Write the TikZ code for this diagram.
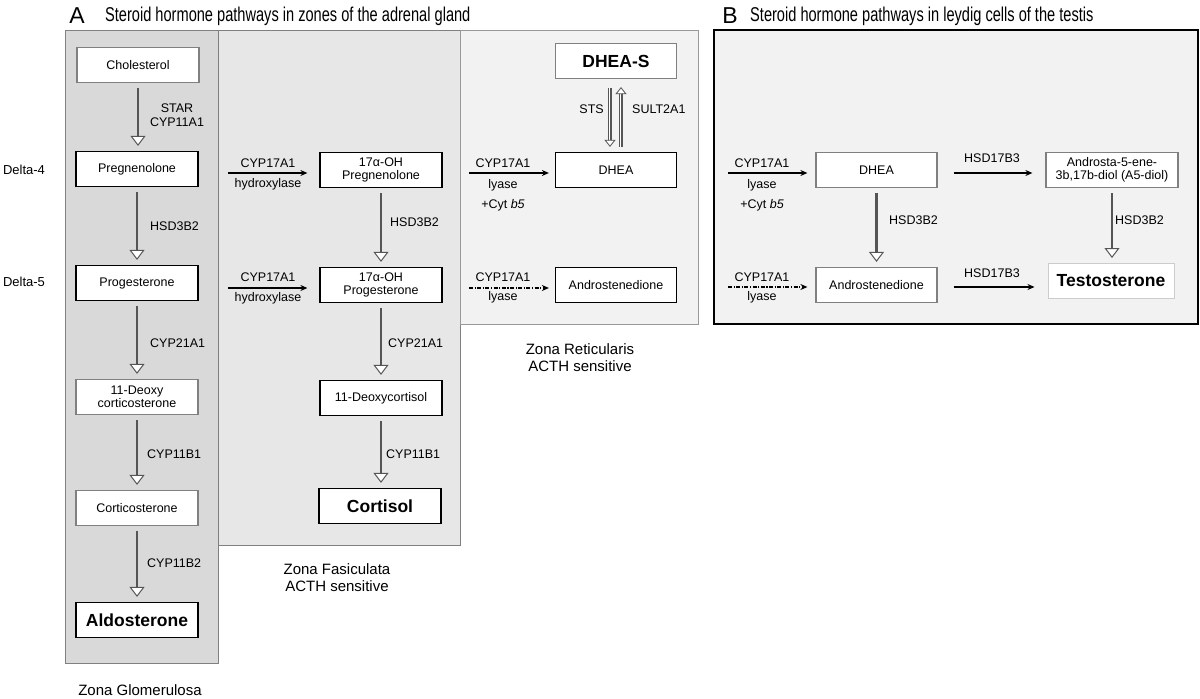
\documentclass[tikz,border=0pt]{standalone}
\usepackage{fontspec}
\setmainfont{Liberation Sans}
\newfontfamily\narrowfont[FakeStretch=0.73]{Liberation Sans}
\usetikzlibrary{arrows.meta,calc}
\definecolor{zg}{HTML}{D9D9D9}
\definecolor{zf}{HTML}{E7E7E7}
\definecolor{zr}{HTML}{F2F2F2}
\definecolor{zb}{HTML}{F2F2F2}
\definecolor{arrgray}{HTML}{555555}
\definecolor{boxgray}{HTML}{808080}
\tikzset{
  box/.style={draw=black, line width=1.2pt, fill=white, minimum width=122pt, minimum height=35pt,
    align=center, inner sep=1pt, font=\fontsize{12.5}{14.5}\selectfont},
  gbox/.style={box, draw=boxgray},
  big/.style={font=\fontsize{17.5}{20}\selectfont\bfseries},
  lab/.style={font=\fontsize{12.5}{14.5}\selectfont, inner sep=0pt},
  zonelab/.style={font=\fontsize{15}{17}\selectfont, align=center, inner sep=0pt},
  shaft/.style={draw=arrgray, line width=2.8pt, shorten <=5pt, shorten >=15pt},
  tipline/.style={draw=arrgray, line width=1pt, shorten <=5pt, shorten >=5pt,
    -{Triangle[open, fill=white, length=10pt, width=15pt]}},
  hshaft/.style={draw=arrgray, line width=0.7pt, double=white, double distance=2.4pt},
  htip/.style={draw=arrgray, line width=0.8pt, -{Triangle[open, fill=white, length=7pt, width=11pt]}},
  harrow/.style={draw=black, line width=1.6pt, -{Stealth[length=7pt, width=6pt]}},
  darrow/.style={harrow, dash pattern=on 4pt off 1.5pt on 1.2pt off 1.5pt},
}
\newcommand{\myDown}[2]{\draw[shaft] (#1) -- (#1 |- #2); \draw[tipline] (#1) -- (#1 |- #2);}
\begin{document}
\begin{tikzpicture}[x=1pt, y=-1pt]
\useasboundingbox[fill=white] (0,0) rectangle (1200,699);

% titles
\node[font=\fontsize{23}{24}\selectfont, inner sep=0pt] (tA) at (77,16) {A};
\node[font=\narrowfont\fontsize{20}{22}\selectfont, anchor=west, inner sep=0pt] (tA2) at (105,16) {Steroid hormone pathways in zones of the adrenal gland};
\node[font=\fontsize{23}{24}\selectfont, inner sep=0pt] (tB) at (730,16) {B};
\node[font=\narrowfont\fontsize{20}{22}\selectfont, anchor=west, inner sep=0pt] (tB2) at (750,16) {Steroid hormone pathways in leydig cells of the testis};

% zone backgrounds
\fill[zf, draw=boxgray, line width=0.9pt] (218,30) rectangle (460,545);
\fill[zr, draw=boxgray!80, line width=0.9pt] (460,30) rectangle (698,324);
\fill[zg, draw=boxgray, line width=0.9pt] (65,30) rectangle (218,663);
\fill[zb, draw=black, line width=1.8pt] (714,30) rectangle (1198,324);

% delta labels
\node[lab, font=\fontsize{13}{15}\selectfont] (d4) at (24,170) {Delta-4};
\node[lab, font=\fontsize{13}{15}\selectfont] (d5) at (24,282) {Delta-5};

% Zona Glomerulosa
\node[gbox] (chol) at (138,65) {Cholesterol};
\node[box] (preg) at (137,169) {Pregnenolone};
\node[box] (prog) at (137,283) {Progesterone};
\node[gbox] (doc) at (137,397) {11-Deoxy\\[-2pt]corticosterone};
\node[gbox] (cort) at (137,508) {Corticosterone};
\node[box, big] (aldo) at (137,620) {Aldosterone};

\myDown{chol.south}{preg.north}
\myDown{preg.south}{prog.north}
\myDown{prog.south}{doc.north}
\myDown{doc.south}{cort.north}
\myDown{cort.south}{aldo.north}
\node[lab, align=center] (l1) at (177,115) {STAR\\CYP11A1};
\node[lab, anchor=west] (l2) at (150,226) {HSD3B2};
\node[lab, anchor=west] (l3) at (150,343) {CYP21A1};
\node[lab, anchor=west] (l4) at (147,454) {CYP11B1};
\node[lab, anchor=west] (l5) at (147,563) {CYP11B2};
\node[zonelab] (zgl) at (140,690) {Zona Glomerulosa};

% Zona Fasiculata
\node[box] (ohpreg) at (381,170) {17α-OH\\[-2pt]Pregnenolone};
\node[box] (ohprog) at (381,285) {17α-OH\\[-2pt]Progesterone};
\node[box] (doxc) at (381,398) {11-Deoxycortisol};
\node[box, big] (cortisol) at (380,506) {Cortisol};
\myDown{ohpreg.south}{ohprog.north}
\myDown{ohprog.south}{doxc.north}
\myDown{doxc.south}{cortisol.north}
\node[lab, anchor=west] (l6) at (390,222) {HSD3B2};
\node[lab, anchor=west] (l7) at (388,343) {CYP21A1};
\node[lab, anchor=west] (l8) at (386,454) {CYP11B1};

\coordinate (h1) at (228,173);
\coordinate (h2) at (228,288);
\draw[harrow, shorten >=12pt] (h1) -- (h1 -| ohpreg.west);
\draw[harrow, shorten >=12pt] (h2) -- (h2 -| ohprog.west);
\node[lab] (c1) at (268,163) {CYP17A1};
\node[lab] (c1b) at (268,184) {hydroxylase};
\node[lab] (c2) at (268,277) {CYP17A1};
\node[lab] (c2b) at (268,298) {hydroxylase};
\node[zonelab] (zfl) at (337,578) {Zona Fasiculata\\ACTH sensitive};

% Zona Reticularis
\node[gbox, big, minimum width=121pt] (dheas) at (616,61) {DHEA-S};
\node[box, minimum width=121pt] (dhea) at (616,170) {DHEA};
\node[box, minimum width=121pt] (andro) at (616,285) {Androstenedione};
\coordinate (stsA) at ($(dheas.south)+(-6,9)$);
\coordinate (stsB) at ($(dhea.north)+(-6,-5)$);
\coordinate (sulA) at ($(dhea.north)+(5,-5)$);
\coordinate (sulB) at ($(dheas.south)+(5,8)$);
\draw[hshaft, shorten >=6pt] (stsA) -- (stsB);
\draw[htip] (stsA) -- (stsB);
\draw[hshaft, shorten >=6pt] (sulA) -- (sulB);
\draw[htip] (sulA) -- (sulB);
\node[lab, anchor=east] (sts) at (604,109) {STS};
\node[lab, anchor=west] (sult) at (632,109) {SULT2A1};

\coordinate (h3) at (469,173);
\coordinate (h4) at (469,288);
\draw[harrow, shorten >=6pt] (h3) -- (h3 -| dhea.west);
\draw[darrow, shorten >=6pt] (h4) -- (h4 -| andro.west);
\node[lab] (c3) at (503,163) {CYP17A1};
\node[lab] (c3b) at (503,185) {lyase};
\node[lab] (c3c) at (503,205) {+Cyt \textit{b5}};
\node[lab] (c4) at (503,277) {CYP17A1};
\node[lab] (c4b) at (503,297) {lyase};
\node[zonelab] (zrl) at (580,358) {Zona Reticularis\\ACTH sensitive};

% Panel B
\node[gbox, minimum width=121pt] (bdhea) at (876.5,170) {DHEA};
\node[gbox, minimum width=121pt] (bandro) at (876.5,285) {Androstenedione};
\node[gbox, minimum width=132pt] (adiol) at (1112,170) {Androsta-5-ene-\\[-2pt]3b,17b-diol (A5-diol)};
\node[box, big, draw=black!20, line width=1pt, minimum width=126pt] (testo) at (1111,281) {Testosterone};
\myDown{bdhea.south}{bandro.north}
\myDown{adiol.south}{testo.north}
\node[lab, anchor=west] (l9) at (889,220) {HSD3B2};
\node[lab, anchor=west] (l10) at (1115,220) {HSD3B2};

\coordinate (h5) at (728,173);
\coordinate (h6) at (728,287);
\draw[harrow, shorten >=8pt] (h5) -- (h5 -| bdhea.west);
\draw[darrow, shorten >=8pt] (h6) -- (h6 -| bandro.west);
\draw[harrow, shorten <=16pt, shorten >=13pt] (bdhea.east |- h5) -- (adiol.west |- h5);
\draw[harrow, shorten <=16pt, shorten >=13pt] (bandro.east |- h6) -- (testo.west |- h6);
\node[lab] (c5) at (762,163) {CYP17A1};
\node[lab] (c5b) at (762,185) {lyase};
\node[lab] (c5c) at (762,205) {+Cyt \textit{b5}};
\node[lab] (c6) at (762,277) {CYP17A1};
\node[lab] (c6b) at (762,297) {lyase};
\node[lab] (e1) at (992,158) {HSD17B3};
\node[lab] (e2) at (992,273) {HSD17B3};
\end{tikzpicture}
\end{document}
